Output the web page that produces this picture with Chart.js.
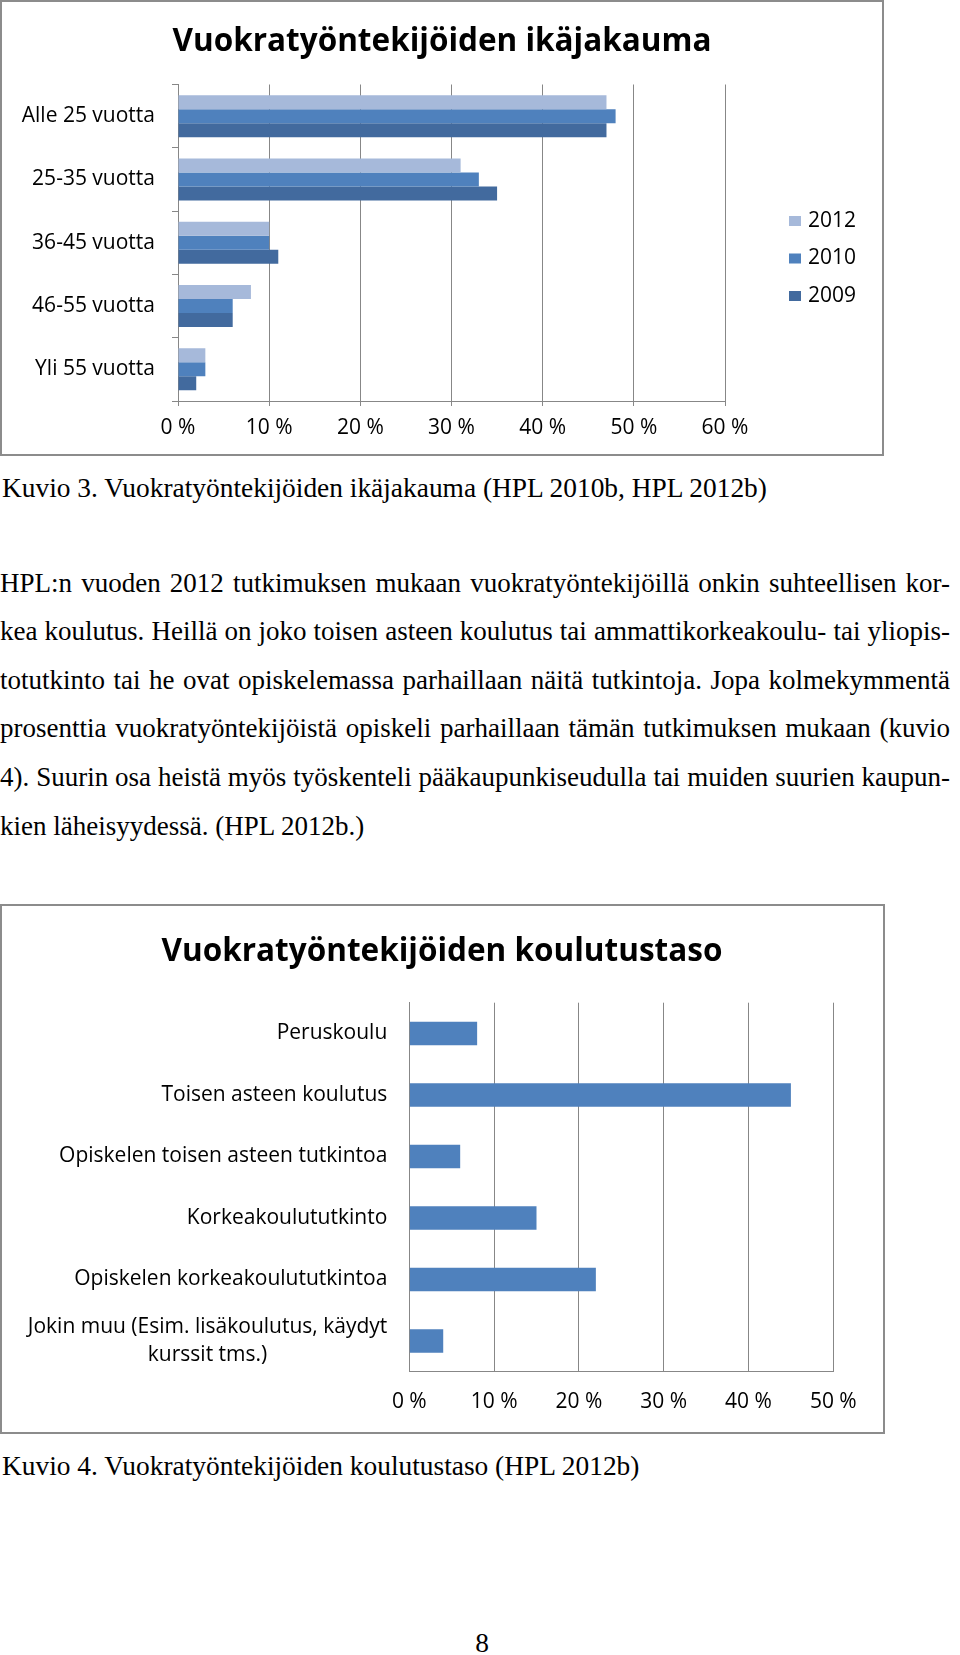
<!DOCTYPE html>
<html><head><meta charset="utf-8">
<script src="https://cdn.jsdelivr.net/npm/chart.js@4/dist/chart.umd.min.js"></script>
<style>
html,body{margin:0;padding:0;background:#fff;}
body{width:960px;height:1655px;position:relative;overflow:hidden;}
.frame{position:absolute;border:2px solid #8c8c8c;box-sizing:border-box;pointer-events:none;}
canvas{position:absolute;left:0;}
.serif{position:absolute;font-family:"Liberation Serif",serif;font-size:27.4px;color:#000;white-space:nowrap;line-height:30px;}
#para{position:absolute;left:0;top:558.7px;font-family:"Liberation Serif",serif;font-size:27px;color:#000;line-height:48.6px;width:950px;}
#para div{white-space:nowrap;}
#para .j{text-align:justify;text-align-last:justify;}
</style></head>
<body>
<canvas id="c1" width="884" height="456" style="top:0"></canvas>
<div class="frame" style="left:0;top:0;width:884px;height:456px"></div>
<div class="serif" style="left:2px;top:473px">Kuvio 3. Vuokratyöntekijöiden ikäjakauma (HPL 2010b, HPL 2012b)</div>
<div id="para">
<div class="j">HPL:n vuoden 2012 tutkimuksen mukaan vuokratyöntekijöillä onkin suhteellisen kor-</div>
<div class="j">kea koulutus. Heillä on joko toisen asteen koulutus tai ammattikorkeakoulu- tai yliopis-</div>
<div class="j">totutkinto tai he ovat opiskelemassa parhaillaan näitä tutkintoja. Jopa kolmekymmentä</div>
<div class="j">prosenttia vuokratyöntekijöistä opiskeli parhaillaan tämän tutkimuksen mukaan (kuvio</div>
<div class="j">4). Suurin osa heistä myös työskenteli pääkaupunkiseudulla tai muiden suurien kaupun-</div>
<div>kien läheisyydessä. (HPL 2012b.)</div>
</div>
<canvas id="c2" width="884" height="530" style="top:904px"></canvas>
<div class="frame" style="left:0;top:904px;width:885px;height:530px"></div>
<div class="serif" style="left:2px;top:1451px">Kuvio 4. Vuokratyöntekijöiden koulutustaso (HPL 2012b)</div>
<div class="serif" style="left:462px;top:1628px;width:40px;text-align:center">8</div>
<script>
// ---- Data: chart 1 (age distribution) ----
const ageCategories = ['Alle 25 vuotta', '25-35 vuotta', '36-45 vuotta', '46-55 vuotta', 'Yli 55 vuotta'];
const ageSeriesNames = ['2012', '2010', '2009'];
const age2012 = [47, 31, 10, 8, 3];
const age2010 = [48, 33, 10, 6, 3];
const age2009 = [47, 35, 11, 6, 2];
const ageTickLabels = ['0 %', '10 %', '20 %', '30 %', '40 %', '50 %', '60 %'];

// ---- Data: chart 2 (education level) ----
const eduCategories = ['Peruskoulu', 'Toisen asteen koulutus', 'Opiskelen toisen asteen tutkintoa', 'Korkeakoulututkinto', 'Opiskelen korkeakoulututkintoa', ['Jokin muu (Esim. lisäkoulutus, käydyt', 'kurssit tms.)']];
const eduValues = [8, 45, 6, 15, 22, 4];
const eduTickLabels = ['0 %', '10 %', '20 %', '30 %', '40 %', '50 %'];

const FONT = 'Open Sans';
const GRID = '#878787';

const sideLegend = {
  id: 'sideLegend',
  afterDraw(chart) {
    const ctx = chart.ctx;
    ctx.save();
    ctx.font = '21px "' + FONT + '"';
    ctx.textBaseline = 'middle';
    ctx.textAlign = 'left';
    chart.data.datasets.forEach((ds, i) => {
      const y = 221 + i * 37.5;
      ctx.fillStyle = ds.backgroundColor;
      ctx.fillRect(789, y - 5, 12, 10);
      ctx.fillStyle = '#000';
      ctx.fillText(ds.label, 808, y);
    });
    ctx.restore();
  }
};

const blockLabels = {
  id: 'blockLabels',
  afterDraw(chart) {
    const s = chart.scales.y;
    const ctx = chart.ctx;
    ctx.save();
    ctx.font = '21px "' + FONT + '"';
    ctx.fillStyle = '#000';
    ctx.textBaseline = 'middle';
    ctx.textAlign = 'center';
    const lh = 28.5;
    chart.data.labels.forEach((lab, i) => {
      const lines = Array.isArray(lab) ? lab : [lab];
      const w = Math.max(...lines.map(l => ctx.measureText(l).width));
      const cx = s.right - 22 - w / 2;
      const y0 = s.getPixelForValue(i) - (lines.length - 1) * lh / 2;
      lines.forEach((l, j) => ctx.fillText(l, cx, y0 + j * lh));
    });
    ctx.restore();
  }
};

new Chart(document.getElementById('c1'), {
  type: 'bar',
  data: {
    labels: ageCategories,
    datasets: [
      { label: ageSeriesNames[0], data: age2012, backgroundColor: '#A6B9DA', xAxisID: 'x', yAxisID: 'y' },
      { label: ageSeriesNames[1], data: age2010, backgroundColor: '#4F81BD', xAxisID: 'x', yAxisID: 'y' },
      { label: ageSeriesNames[2], data: age2009, backgroundColor: '#426A9E', xAxisID: 'x', yAxisID: 'y' }
    ]
  },
  options: {
    indexAxis: 'y',
    responsive: false,
    animation: false,
    devicePixelRatio: 1,
    categoryPercentage: 0.663,
    barPercentage: 1.0,
    layout: { padding: 0 },
    plugins: {
      legend: { display: false },
      tooltip: { enabled: false },
      title: {
        display: true,
        text: 'Vuokratyöntekijöiden ikäjakauma',
        font: { family: FONT, size: 31.5, weight: 'bold' },
        color: '#000',
        padding: { top: 23, bottom: 23.7 }
      }
    },
    scales: {
      y: {
        position: 'left',
        grid: { display: true, drawOnChartArea: false, tickLength: 6, color: GRID, offset: true },
        border: { display: true, color: GRID },
        ticks: { font: { family: FONT, size: 21 }, color: '#000', padding: 17 },
        afterFit(s) { s.width = 178; }
      },
      x: {
        position: 'bottom',
        min: 0, max: 60,
        grid: { color: GRID, tickLength: 5 },
        border: { display: true, color: GRID },
        ticks: { stepSize: 10, font: { family: FONT, size: 21 }, color: '#000', padding: 9.4,
          callback: (v, i) => ageTickLabels[i] },
        afterFit(s) { s.height = 55; }
      },
      yPad: {
        type: 'linear', position: 'right', display: true,
        grid: { display: false }, border: { display: false }, ticks: { display: false },
        afterFit(s) { s.width = 159; }
      }
    }
  },
  plugins: [sideLegend]
});

new Chart(document.getElementById('c2'), {
  type: 'bar',
  data: {
    labels: eduCategories,
    datasets: [
      { label: 'Koulutustaso', data: eduValues, backgroundColor: '#4F81BD', xAxisID: 'x', yAxisID: 'y' }
    ]
  },
  options: {
    indexAxis: 'y',
    responsive: false,
    animation: false,
    devicePixelRatio: 1,
    categoryPercentage: 1.0,
    barPercentage: 0.38,
    layout: { padding: 0 },
    plugins: {
      legend: { display: false },
      tooltip: { enabled: false },
      title: {
        display: true,
        text: 'Vuokratyöntekijöiden koulutustaso',
        font: { family: FONT, size: 31.5, weight: 'bold' },
        color: '#000',
        padding: { top: 29.5, bottom: 31.4 }
      }
    },
    scales: {
      y: {
        position: 'left',
        grid: { display: false },
        border: { display: true, color: GRID },
        ticks: { display: false },
        afterFit(s) { s.width = 409.3; }
      },
      x: {
        position: 'bottom',
        min: 0, max: 50,
        grid: { color: GRID, drawTicks: false },
        border: { display: true, color: GRID },
        ticks: { stepSize: 10, font: { family: FONT, size: 21 }, color: '#000', padding: 18,
          callback: (v, i) => eduTickLabels[i] },
        afterFit(s) { s.height = 62.3; }
      },
      yPad: {
        type: 'linear', position: 'right', display: true,
        grid: { display: false }, border: { display: false }, ticks: { display: false },
        afterFit(s) { s.width = 50.7; }
      }
    }
  },
  plugins: [blockLabels]
});
</script>
</body></html>
